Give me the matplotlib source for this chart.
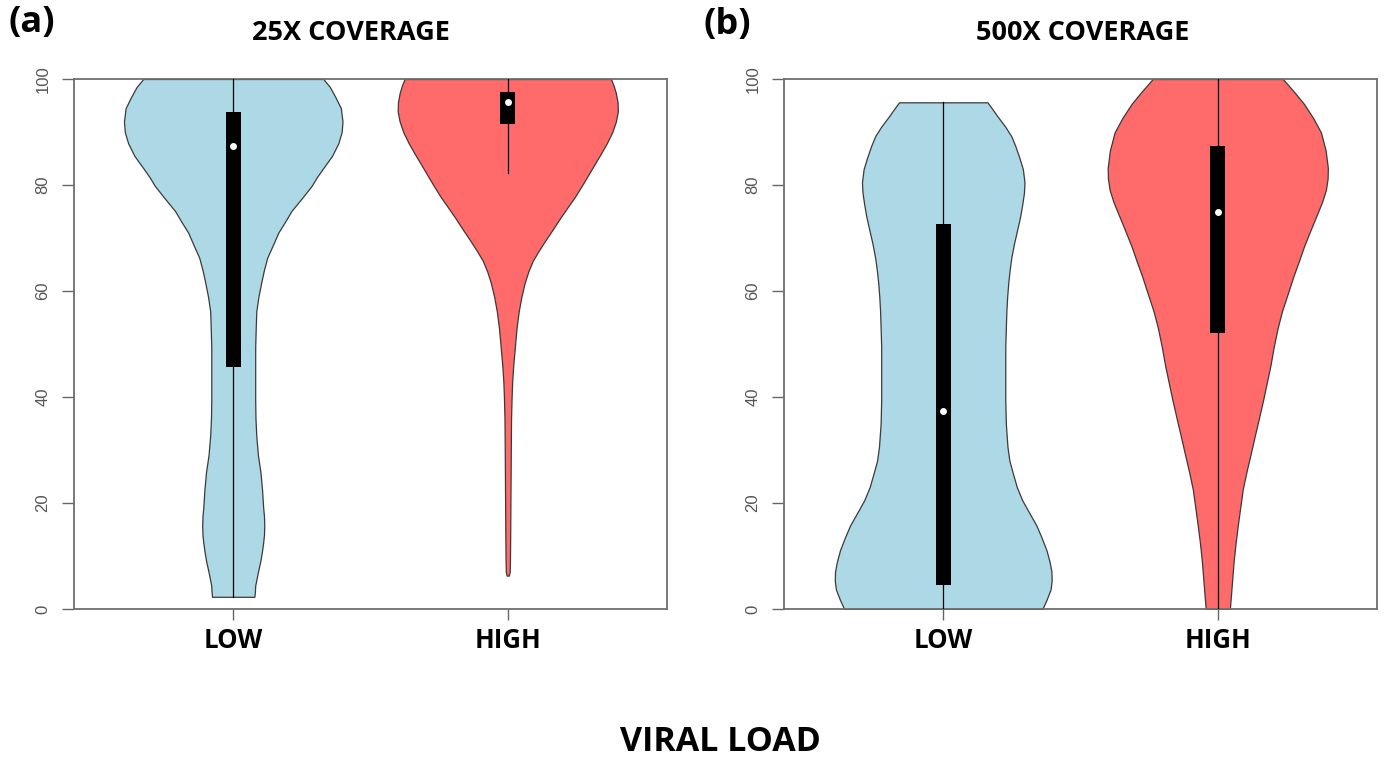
import matplotlib
matplotlib.use("Agg")
import matplotlib.pyplot as plt
from matplotlib.patches import Rectangle

# ---------------- data ----------------
groups = ["LOW", "HIGH"]
panel_titles = ["25X COVERAGE", "500X COVERAGE"]
panel_tags = ["(a)", "(b)"]
x_label = "VIRAL LOAD"
y_ticks = [0, 20, 40, 60, 80, 100]

# violin outlines: y levels and half-widths (x units)
a_low_y = [2.3, 3.3, 4.4, 7.0, 9.1, 11.0, 12.5, 14.0, 15.8, 17.5, 19.2, 22.5,
           25.9, 29.0, 32.7, 36.0, 39.4, 44.0, 49.5, 53.0, 56.2, 59.0, 61.6,
           64.0, 66.3, 68.5, 71.0, 73.0, 75.1, 77.5, 79.8, 81.5, 83.2, 85.5,
           87.9, 90.0, 92.0, 94.5, 96.6, 98.5, 100]
a_low_w = [0.077, 0.079, 0.080, 0.090, 0.099, 0.105, 0.109, 0.112, 0.113, 0.112,
           0.109, 0.105, 0.099, 0.090, 0.084, 0.081, 0.080, 0.080, 0.080, 0.082,
           0.084, 0.092, 0.102, 0.112, 0.124, 0.143, 0.164, 0.188, 0.212, 0.250,
           0.285, 0.305, 0.328, 0.360, 0.383, 0.395, 0.398, 0.392, 0.372, 0.352,
           0.328]

a_high_y = [6.3, 7.0, 9.0, 15.0, 22.6, 30.0, 36.0, 40.0, 42.8, 46.0, 49.5, 53.0,
            56.2, 59.0, 61.6, 63.7, 65.7, 67.7, 69.7, 71.7, 73.7, 75.8, 77.8,
            79.8, 81.8, 83.9, 85.9, 87.9, 89.9, 92.0, 93.9, 95.6, 97.3, 98.7, 100]
a_high_w = [0.004, 0.007, 0.008, 0.009, 0.010, 0.011, 0.012, 0.014, 0.016, 0.020,
            0.026, 0.032, 0.040, 0.050, 0.062, 0.075, 0.091, 0.114, 0.139, 0.165,
            0.190, 0.218, 0.245, 0.269, 0.292, 0.316, 0.339, 0.361, 0.380, 0.394,
            0.401, 0.400, 0.394, 0.386, 0.376]

b_low_y = [0, 1.7, 3.7, 5.4, 7.1, 9.0, 11.1, 13.5, 15.8, 18.0, 20.5, 23.0, 25.9,
           28.0, 30.6, 35.0, 39.4, 44.0, 49.5, 53.0, 56.2, 59.0, 61.6, 64.0, 66.3,
           69.0, 71.7, 74.0, 76.4, 78.5, 80.5, 83.0, 85.2, 87.3, 89.2, 91.0, 93.0,
           94.4, 95.6]
b_low_w = [0.361, 0.376, 0.391, 0.395, 0.394, 0.387, 0.376, 0.358, 0.339, 0.315,
           0.288, 0.268, 0.252, 0.241, 0.234, 0.228, 0.226, 0.226, 0.226, 0.228,
           0.230, 0.233, 0.237, 0.242, 0.248, 0.258, 0.270, 0.280, 0.288, 0.294,
           0.296, 0.290, 0.277, 0.263, 0.248, 0.226, 0.197, 0.178, 0.161]

b_high_y = [0, 4.5, 9.1, 12.5, 15.8, 19.2, 22.6, 26.0, 29.3, 32.7, 36.0, 39.4,
            42.8, 46.0, 49.5, 53.0, 56.2, 59.5, 63.0, 65.7, 68.4, 71.5, 74.4,
            76.8, 79.1, 81.2, 83.2, 86.5, 89.9, 92.6, 95.3, 97.7, 100]
b_high_w = [0.044, 0.051, 0.058, 0.065, 0.073, 0.082, 0.091, 0.105, 0.120, 0.135,
            0.150, 0.165, 0.179, 0.192, 0.204, 0.218, 0.234, 0.255, 0.277, 0.296,
            0.314, 0.338, 0.361, 0.380, 0.394, 0.400, 0.401, 0.393, 0.376, 0.348,
            0.314, 0.276, 0.237]

# box stats: whisker low, q1, median, q3, whisker high
a_low_box = [2.3, 45.7, 87.3, 93.7, 100]
a_high_box = [82.2, 91.6, 95.6, 97.6, 100]
b_low_box = [0.0, 4.6, 37.4, 72.7, 95.6]
b_high_box = [0.0, 52.0, 75.0, 87.3, 100]

violins = [
    [(a_low_y, a_low_w, a_low_box), (a_high_y, a_high_w, a_high_box)],
    [(b_low_y, b_low_w, b_low_box), (b_high_y, b_high_w, b_high_box)],
]
colors = ["#ADD8E6", "#FF6A6A"]

# ---------------- figure ----------------
fig = plt.figure(figsize=(13.87, 7.60), dpi=100)
lefts = [74 / 1387, 784 / 1387]
ax_w = 593 / 1387
ax_b = 1 - 609 / 760
ax_h = 530 / 760
bold_font = ["Open Sans", "DejaVu Sans"]

for p in range(2):
    ax = fig.add_axes([lefts[p], ax_b, ax_w, ax_h])
    for i, (yy, ww, bx) in enumerate(violins[p]):
        pos = i + 1
        left = [pos - w for w in ww]
        right = [pos + w for w in ww]
        ax.fill_betweenx(yy, left, right, facecolor=colors[i],
                         edgecolor="#3a3a3a", linewidth=0.9, zorder=2)
        ax.plot([pos, pos], [bx[0], bx[4]], color="black", lw=0.9, zorder=3)
        ax.add_patch(Rectangle((pos - 0.027, bx[1]), 0.054, bx[3] - bx[1],
                               facecolor="black", edgecolor="none", zorder=4))
        ax.plot([pos], [bx[2]], marker="o", color="white", markersize=5,
                markeredgewidth=0, zorder=5)
    ax.set_xlim(0.42, 2.58)
    ax.set_ylim(0, 100)
    ax.set_xticks([1, 2])
    ax.set_xticklabels(groups, fontsize=18.5, fontweight="bold", family=bold_font)
    ax.set_yticks(y_ticks)
    ax.set_yticklabels([str(t) for t in y_ticks], rotation=90, va="center",
                       fontsize=12, color="#555555", family="Liberation Sans")
    ax.tick_params(axis="y", length=9, width=1.0, color="#666666", pad=8)
    ax.tick_params(axis="x", length=8, width=1.0, color="#666666", pad=5)
    for s in ax.spines.values():
        s.set_color("#6e6e6e")
        s.set_linewidth(1.3)

fig.text(351 / 1387, 1 - 33 / 760, panel_titles[0], ha="center", va="center",
         fontsize=19.5, fontweight="bold", family=bold_font)
fig.text(1083 / 1387, 1 - 33 / 760, panel_titles[1], ha="center", va="center",
         fontsize=19.5, fontweight="bold", family=bold_font)
fig.text(32 / 1387, 1 - 23 / 760, panel_tags[0], ha="center", va="center",
         fontsize=26, fontweight="bold", family=bold_font)
fig.text(727 / 1387, 1 - 25 / 760, panel_tags[1], ha="center", va="center",
         fontsize=26, fontweight="bold", family=bold_font)
fig.text(720 / 1387, 1 - 742 / 760, x_label, ha="center", va="center",
         fontsize=24.5, fontweight="bold", family=bold_font)

fig.savefig("out.png", dpi=100)
